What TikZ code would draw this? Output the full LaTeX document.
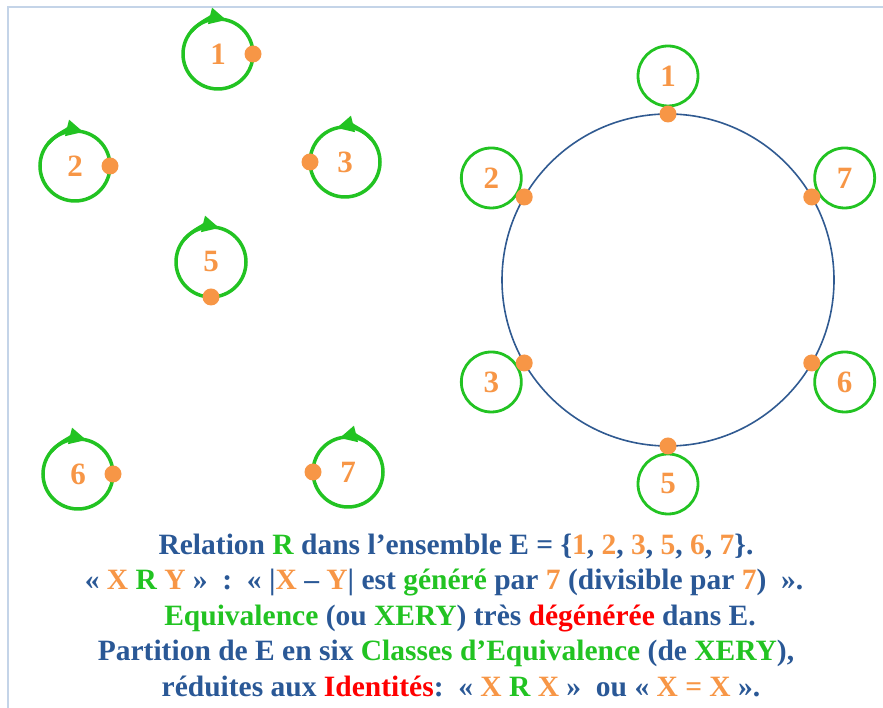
\documentclass[tikz,border=0pt]{standalone}
\usepackage{fontspec}
\setmainfont{Liberation Serif}
\usetikzlibrary{arrows.meta}

\definecolor{txtblue}{RGB}{42,88,150}
\definecolor{elgreen}{RGB}{34,195,34}
\definecolor{elorange}{RGB}{247,150,70}
\definecolor{ringblue}{RGB}{48,90,145}
\definecolor{framegray}{RGB}{196,212,232}

\newcommand{\orng}[1]{\textcolor{elorange}{#1}}
\newcommand{\grn}[1]{\textcolor{elgreen}{#1}}
\newcommand{\redt}[1]{\textcolor{red}{#1}}

\begin{document}
\begin{tikzpicture}[x=1pt, y=1pt,
    elt/.style={circle, draw=elgreen, line width=3.5pt, minimum size=70pt, inner sep=0pt,
      outer sep=0pt, text=elorange, font=\fontsize{31}{31}\selectfont\bfseries},
    cls/.style={elt, line width=2.8pt, minimum size=60pt},
    orangedot/.style={fill=elorange},
    looparr/.style={draw=elgreen, line width=3.5pt, -{Triangle[length=17pt 0,width=16pt 0]}},
    ring/.style={draw=ringblue, line width=1.6pt},
    frame/.style={draw=framegray, line width=2.5pt},
    txt/.style={text=txtblue, font=\fontsize{29.5}{35}\selectfont\bfseries, inner sep=0pt, anchor=base}]
    \useasboundingbox (0, 0) rectangle (883, 708);
    \draw[frame] (8, 0) -- (8, 701) -- (883, 701);

    % Left: every element related only to itself
    \node[elt] (l1) at (218, 654) {1};
    \node[elt] (l2) at (75, 542) {2};
    \node[elt] (l3) at (345, 546) {3};
    \node[elt] (l5) at (211, 446) {5};
    \node[elt] (l6) at (78, 234) {6};
    \node[elt] (l7) at (348, 236) {7};

    \draw[looparr] (l1.140) arc (140:76:35pt);
    \draw[looparr] (l2.140) arc (140:76:35pt);
    \draw[looparr] (l5.140) arc (140:76:35pt);
    \draw[looparr] (l6.140) arc (140:76:35pt);
    \draw[looparr] (l3.40) arc (40:104:35pt);
    \draw[looparr] (l7.40) arc (40:104:35pt);

    \fill[orangedot] (l1.east) circle (8.5pt);
    \fill[orangedot] (l2.east) circle (8.5pt);
    \fill[orangedot] (l3.west) circle (8.5pt);
    \fill[orangedot] (l5.south) circle (8.5pt);
    \fill[orangedot] (l6.east) circle (8.5pt);
    \fill[orangedot] (l7.west) circle (8.5pt);

    % Right: the six classes around E
    \coordinate (o) at (668, 428);
    \draw[ring] (o) circle (166pt);

    \node[cls] (r1) at ([shift={(90:204pt)}]o) {1};
    \node[cls] (r2) at ([shift={(150:204pt)}]o) {2};
    \node[cls] (r3) at ([shift={(210:204pt)}]o) {3};
    \node[cls] (r5) at ([shift={(270:204pt)}]o) {5};
    \node[cls] (r6) at ([shift={(330:204pt)}]o) {6};
    \node[cls] (r7) at ([shift={(30:204pt)}]o) {7};

    \fill[orangedot] ([shift={(90:166pt)}]o) circle (8.5pt);
    \fill[orangedot] ([shift={(150:166pt)}]o) circle (8.5pt);
    \fill[orangedot] ([shift={(210:166pt)}]o) circle (8.5pt);
    \fill[orangedot] ([shift={(270:166pt)}]o) circle (8.5pt);
    \fill[orangedot] ([shift={(330:166pt)}]o) circle (8.5pt);
    \fill[orangedot] ([shift={(30:166pt)}]o) circle (8.5pt);

    % Caption
    \node[txt] (txt1) at (456, 153) {Relation \grn{R} dans l’ensemble E = \{\orng{1}, \orng{2}, \orng{3}, \orng{5}, \orng{6}, \orng{7}\}.};
    \node[txt] (txt2) at (444, 118) {« \orng{X} \grn{R} \orng{Y} »~~:~~« |\orng{X} – \orng{Y}| est \grn{généré} par \orng{7} (divisible par \orng{7})~~».};
    \node[txt] (txt3) at (460, 82) {\grn{Equivalence} (ou \grn{XERY}) très \redt{dégénérée} dans E.};
    \node[txt] (txt4) at (446, 47) {Partition de E en six \grn{Classes d’Equivalence} (de \grn{XERY}),};
    \node[txt] (txt5) at (461, 11) {réduites aux \redt{Identités}:~~« \orng{X} \grn{R} \orng{X} »~~ou « \orng{X = X} ».};
\end{tikzpicture}
\end{document}
